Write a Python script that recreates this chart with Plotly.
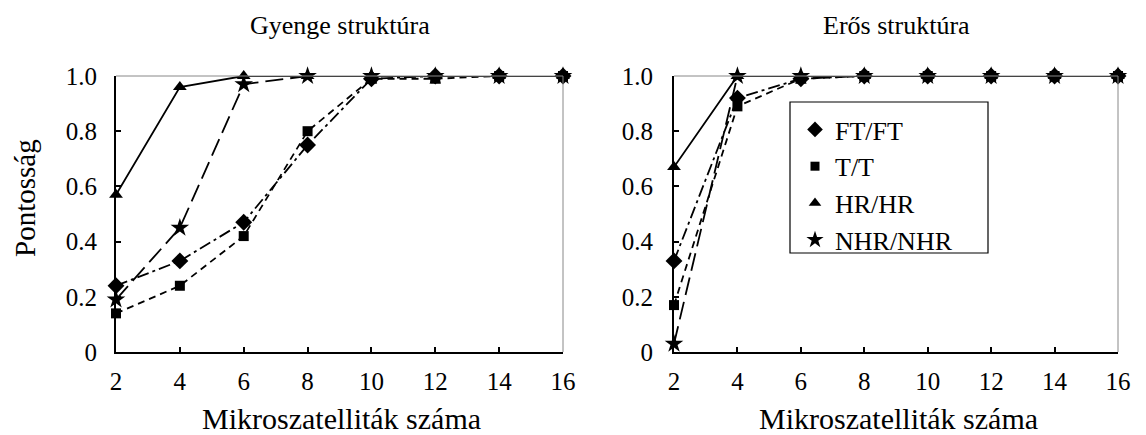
import plotly.graph_objects as go

# Number of microsatellites (x) and accuracy values for each method
markers_n = [2, 4, 6, 8, 10, 12, 14, 16]

weak_ft = [0.24, 0.33, 0.47, 0.75, 0.99, 1.0, 1.0, 1.0]
weak_t = [0.14, 0.24, 0.42, 0.80, 0.99, 0.99, 1.0, 1.0]
weak_hr = [0.57, 0.96, 1.0, 1.0, 1.0, 1.0, 1.0, 1.0]
weak_nhr = [0.19, 0.45, 0.97, 1.0, 1.0, 1.0, 1.0, 1.0]

strong_ft = [0.33, 0.92, 0.99, 1.0, 1.0, 1.0, 1.0, 1.0]
strong_t = [0.17, 0.89, 0.99, 1.0, 1.0, 1.0, 1.0, 1.0]
strong_hr = [0.67, 1.0, 1.0, 1.0, 1.0, 1.0, 1.0, 1.0]
strong_nhr = [0.03, 1.0, 1.0, 1.0, 1.0, 1.0, 1.0, 1.0]

series_names = ["FT/FT", "T/T", "HR/HR", "NHR/NHR"]
panel_titles = ["Gyenge struktúra", "Erős struktúra"]
x_title = "Mikroszatelliták száma"
y_title = "Pontosság"
y_tickvals = [0, 0.2, 0.4, 0.6, 0.8, 1.0]
y_ticktext = ["0", "0.2", "0.4", "0.6", "0.8", "1.0"]
x_tickvals = [2, 4, 6, 8, 10, 12, 14, 16]

FONT = "Liberation Serif, Times New Roman, serif"
W, H = 1146, 435

styles = {
    "FT/FT": dict(symbol="diamond", size=13, dash="12px,4px,3px,4px"),
    "T/T": dict(symbol="square", size=10, dash="7px,5px"),
    "HR/HR": dict(symbol="triangle-up", size=12, dash="solid"),
    "NHR/NHR": dict(symbol="star", size=14, dash="18px,7px"),
}

panels = [
    ("x", "y", [weak_ft, weak_t, weak_hr, weak_nhr]),
    ("x2", "y2", [strong_ft, strong_t, strong_hr, strong_nhr]),
]

fig = go.Figure()
for xa, ya, data in panels:
    for name, vals in zip(series_names, data):
        st = styles[name]
        fig.add_trace(go.Scatter(
            x=markers_n, y=vals, xaxis=xa, yaxis=ya, name=name,
            mode="lines+markers", showlegend=False, cliponaxis=False,
            line=dict(color="black", width=1.8, dash=st["dash"]),
            marker=dict(symbol=st["symbol"], size=st["size"], color="black"),
        ))

# marker-only legend entries
for name in series_names:
    st = styles[name]
    fig.add_trace(go.Scatter(
        x=[None], y=[None], xaxis="x2", yaxis="y2", name=name, mode="markers",
        marker=dict(symbol=st["symbol"], size=st["size"] - 1, color="black"),
    ))

# pixel-based layout helpers
def px_x(p):
    return p / W

def px_y(p):
    return 1 - p / H

left_dom = [px_x(116), px_x(563)]
right_dom = [px_x(674), px_x(1118)]
y_dom = [px_y(352), px_y(76)]

axis_common = dict(
    showgrid=False, zeroline=False, showline=True, linecolor="black",
    linewidth=2, ticks="inside", ticklen=5, tickwidth=1.5, tickcolor="black",
    tickfont=dict(family=FONT, size=25, color="black"), mirror=False,
    automargin=False,
)

fig.update_layout(
    width=W, height=H,
    margin=dict(l=0, r=0, t=0, b=0, pad=0, autoexpand=False),
    paper_bgcolor="white", plot_bgcolor="white",
    font=dict(family=FONT, color="black"),
    xaxis=dict(domain=left_dom, range=[2, 16], tickvals=x_tickvals,
               anchor="y", ticklabelstandoff=6, **axis_common),
    yaxis=dict(domain=y_dom, range=[0, 1], tickvals=y_tickvals,
               ticktext=y_ticktext, anchor="x", ticklabelstandoff=12, **axis_common),
    xaxis2=dict(domain=right_dom, range=[2, 16], tickvals=x_tickvals,
                anchor="y2", ticklabelstandoff=6, **axis_common),
    yaxis2=dict(domain=y_dom, range=[0, 1], tickvals=y_tickvals,
                ticktext=y_ticktext, anchor="x2", ticklabelstandoff=14, **axis_common),
    legend=dict(
        x=px_x(795), y=px_y(106), xanchor="left", yanchor="top",
        bgcolor="rgba(0,0,0,0)", borderwidth=0,
        font=dict(family=FONT, size=26, color="black"),
        itemwidth=30, tracegroupgap=0,
    ),
)

# thin grey top/right frame edges
for xr, yr in [("x", "y"), ("x2", "y2")]:
    fig.add_shape(type="line", xref=f"{xr} domain", yref=f"{yr} domain",
                  x0=0, x1=1, y0=1, y1=1, line=dict(color="#888", width=1))
    fig.add_shape(type="line", xref=f"{xr} domain", yref=f"{yr} domain",
                  x0=1, x1=1, y0=0, y1=1, line=dict(color="#888", width=1))

# legend frame
fig.add_shape(type="rect", xref="paper", yref="paper",
              x0=px_x(790), x1=px_x(988), y0=px_y(253), y1=px_y(102),
              line=dict(color="black", width=1.2), fillcolor="white", layer="above")

# panel titles and axis titles
for cx, title, xtc in [(340, panel_titles[0], 341), (896, panel_titles[1], 898)]:
    fig.add_annotation(text=title, x=px_x(cx), y=px_y(25), xref="paper", yref="paper",
                       showarrow=False, xanchor="center", yanchor="middle",
                       font=dict(family=FONT, size=26, color="black"))
    fig.add_annotation(text=x_title, x=px_x(xtc), y=px_y(418), xref="paper", yref="paper",
                       showarrow=False, xanchor="center", yanchor="middle",
                       font=dict(family=FONT, size=30, color="black"))

fig.add_annotation(text=y_title, x=px_x(25), y=px_y(198), xref="paper", yref="paper",
                   showarrow=False, xanchor="center", yanchor="middle", textangle=-90,
                   font=dict(family=FONT, size=29, color="black"))

fig.write_html("out.html")
